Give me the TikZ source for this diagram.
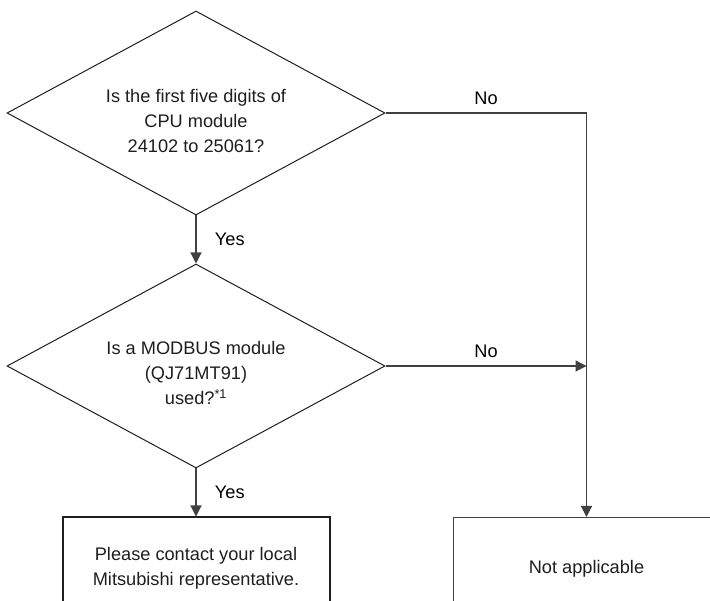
\documentclass[tikz,border=0pt]{standalone}
\usepackage{fontspec}
\setmainfont{Liberation Sans}
\usepackage{tikz}
\usetikzlibrary{arrows.meta}
\usetikzlibrary{positioning}
\usetikzlibrary{shapes.geometric}
\definecolor{linegray}{HTML}{404040}
\definecolor{inkgray}{HTML}{1E1E1E}
\tikzset{>={Triangle[length=11pt,width=11pt]}}
\tikzset{
  decision/.style={draw=inkgray, line width=1pt, diamond, inner sep=0pt,
    minimum width=378pt, minimum height=204pt},
  qtext/.style={align=center, text=inkgray},
  result/.style={draw=inkgray, minimum width=267pt, minimum height=102pt,
    align=center, text=inkgray},
  flow/.style={draw=linegray, line width=1.2pt}
}

\begin{document}
\begin{tikzpicture}[x=1pt, y=-1pt, node distance=48pt,
    font=\fontsize{18.2}{25}\selectfont]
        \clip (0,0) rectangle (710,601);

        \node [decision] (q1) at (196,113) {};
        \node [qtext] (q1text) at ([yshift=-8pt]q1.center)
            {Is the first five digits of\\CPU module\\24102 to 25061?};

        \node [decision, below=of q1] (q2) {};
        \node [qtext] (q2text) at ([yshift=-7pt]q2.center)
            {Is a MODBUS module\\(QJ71MT91)\\used?\textsuperscript{*1}};

        \node [result, line width=2pt, below=of q2] (contact)
            {Please contact your local\\Mitsubishi representative.};
        \node [result, line width=1pt, draw=linegray, right=122pt of contact] (na)
            {Not applicable};

        \draw [flow, ->] (q1.south) -- node [right=15pt] {Yes} (q2.north);
        \draw [flow, ->] (q2.south) -- node [right=15pt] {Yes} (contact.north);

        \draw [flow, ->] (q1.east) -- node [above=4pt] {No} (q1.east -| na.north) -- (na.north);
        \coordinate (merge) at (na.north |- q2.east);
        \draw [flow, ->] (q2.east) -- node [above=4pt] {No} (merge);
    \end{tikzpicture}
\end{document}
